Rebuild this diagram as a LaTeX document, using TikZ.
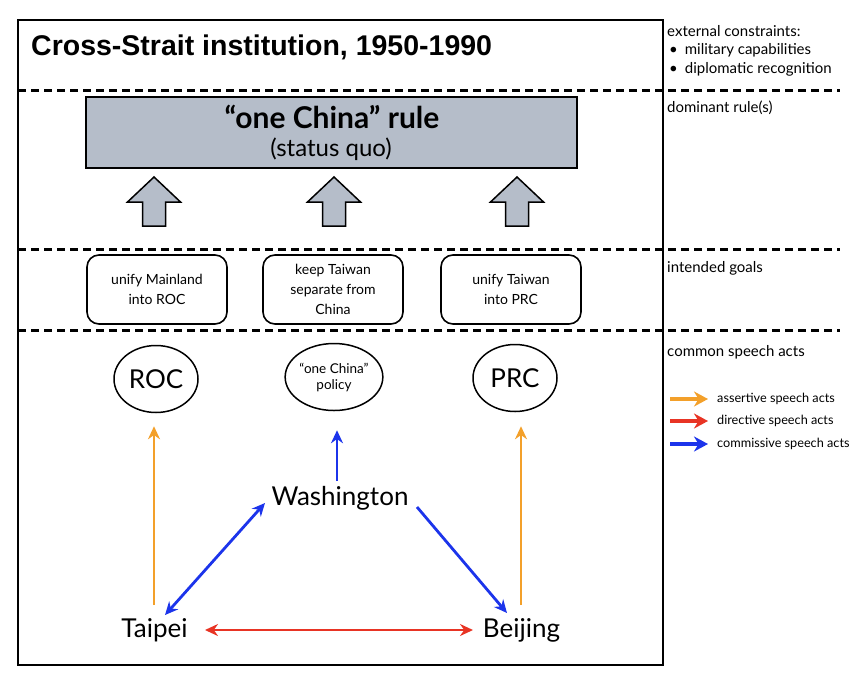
\documentclass[tikz,border=0pt]{standalone}
\usepackage{fontspec}
\setmainfont{Lato}
\newfontfamily\titlefont{Liberation Sans}
\usetikzlibrary{arrows.meta,shapes.geometric,calc}
\definecolor{boxgray}{RGB}{181,189,201}
\definecolor{aorange}{RGB}{243,160,42}
\definecolor{ared}{RGB}{232,52,36}
\definecolor{ablue}{RGB}{28,52,235}
\begin{document}
\begin{tikzpicture}[x=1pt,y=-1pt,
  sep/.style={line width=3pt, dash pattern=on 8pt off 5pt},
  goal/.style={draw, line width=1.6pt, rounded corners=12pt, minimum width=140pt, minimum height=69pt, align=center, inner sep=0pt, font=\fontsize{14}{20}\selectfont},
  actor/.style={draw, ellipse, line width=1.5pt, minimum width=84pt, minimum height=67pt, inner sep=0pt, align=center},
  city/.style={font=\fontsize{26}{28}\selectfont, inner sep=0pt},
  sidelabel/.style={anchor=west, font=\fontsize{15}{17}\selectfont, inner sep=0pt},
  legendlabel/.style={anchor=west, font=\fontsize{12.7}{14}\selectfont, inner sep=0pt},
  sa/.style={line width=2.8pt, -{Stealth[length=13pt,width=12pt]}},
  sab/.style={line width=2.8pt, {Stealth[length=13pt,width=12pt]}-{Stealth[length=13pt,width=12pt]}},
  legarrow/.style={line width=4.5pt, -{Stealth[length=14pt,width=15pt]}},
  bigarrow/.style={draw, line width=1.5pt, fill=boxgray, line join=miter}
]
\useasboundingbox (0,0) rectangle (864,678);
% frame
\draw[line width=2pt] (18,20) rectangle (663,665);
% separators
\draw[sep] (18,90) -- (840,90);
\draw[sep] (18,249) -- (840,249);
\draw[sep] (18,330) -- (840,330);
% title
\node[anchor=west, inner sep=0pt, font=\titlefont\bfseries\fontsize{28.5}{32}\selectfont] (title) at (31,47) {Cross-Strait institution, 1950-1990};
% side labels
\node[sidelabel] (ext) at (667,31) {external constraints:};
\node[sidelabel] (b1) at (669,50) {•\hspace{7pt}military capabilities};
\node[sidelabel] (b2) at (669,69) {•\hspace{7pt}diplomatic recognition};
\node[sidelabel] (dom) at (667,108) {dominant rule(s)};
\node[sidelabel] (goals) at (667,268) {intended goals};
\node[sidelabel] (speech) at (667,352) {common speech acts};
% legend
\node[legendlabel] (leg1) at (717,399) {assertive speech acts};
\node[legendlabel] (leg2) at (717,421) {directive speech acts};
\node[legendlabel] (leg3) at (717,444) {commissive speech acts};
\draw[legarrow, aorange] ($(leg1.west)+(-47,0)$) -- ($(leg1.west)+(-9,0)$);
\draw[legarrow, ared] ($(leg2.west)+(-47,0)$) -- ($(leg2.west)+(-9,0)$);
\draw[legarrow, ablue] ($(leg3.west)+(-47,0)$) -- ($(leg3.west)+(-9,0)$);
% dominant rule box
\node[draw, line width=1.5pt, fill=boxgray, minimum width=491pt, minimum height=71pt, inner sep=0pt] (rule) at (331.5,132.5) {};
\node[font=\bfseries\fontsize{30}{32}\selectfont, inner sep=0pt] (ruletitle) at (332,117) {“one China” rule};
\node[font=\fontsize{24}{26}\selectfont, inner sep=0pt] (statusquo) at (331,149) {(status quo)};
% big arrows
\foreach \cx in {154,334,517}{
  \draw[bigarrow] (\cx,177) -- (\cx+26.5,202) -- (\cx+11.5,202) -- (\cx+11.5,226) -- (\cx-11.5,226) -- (\cx-11.5,202) -- (\cx-26.5,202) -- cycle;
}
% goals
\node[goal] (g1) at (157,289.5) {unify Mainland\\into ROC};
\node[goal] (g2) at (333,289.5) {keep Taiwan\\separate from\\China};
\node[goal] (g3) at (511,289.5) {unify Taiwan\\into PRC};
% actors
\node[actor, font=\fontsize{26}{28}\selectfont] (roc) at (156,379) {ROC};
\node[actor, font=\fontsize{13.5}{16}\selectfont] (policy) at (334,377) {“one China”\\policy};
\node[actor, font=\fontsize{26}{28}\selectfont] (prc) at (515,378) {PRC};
% cities
\node[city] (taipei) at (154.5,630) {Taipei};
\node[city] (washington) at (340,498) {Washington};
\node[city] (beijing) at (521.5,630) {Beijing};
% speech acts
\draw[sa, aorange] ($(taipei)+(-0.5,-25)$) -- ($(roc.south)+(-2,13)$);
\draw[sa, aorange] ($(beijing)+(-0.5,-25)$) -- ($(prc.south)+(6,14)$);
\draw[sa, ablue] ($(washington)+(-3,-17)$) -- ($(policy.south)+(3,19)$);
\draw[sab, ablue] ($(taipei)+(10.5,-15)$) -- ($(washington)+(-75,5)$);
\draw[sa, ablue] ($(washington)+(77,9)$) -- ($(beijing)+(-14.5,-17)$);
\draw[sab, ared] ($(taipei)+(50.5,0)$) -- ($(beijing)+(-48.5,0)$);
\end{tikzpicture}
\end{document}
